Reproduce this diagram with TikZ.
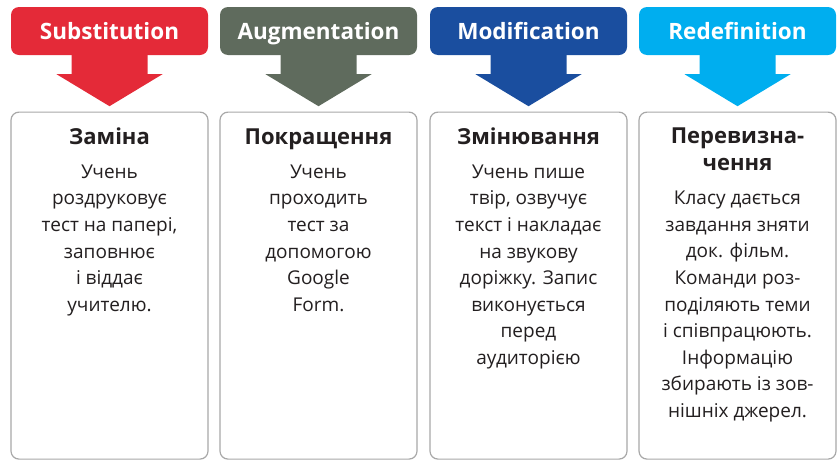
\documentclass[tikz,border=0pt]{standalone}
\usepackage{fontspec}
\setmainfont{Open Sans}
\definecolor{cRed}{HTML}{E42A38}
\definecolor{cGreen}{HTML}{5F6B5D}
\definecolor{cBlue}{HTML}{1A4E9F}
\definecolor{cCyan}{HTML}{00AEEF}
\definecolor{bordergray}{HTML}{A8A8A8}
\definecolor{txt}{HTML}{231F20}
\newcommand{\hdrarrow}[2]{%
  \fill[#2] ([xshift=-38pt,yshift=1pt]#1.south) -- ([xshift=-38pt,yshift=-19pt]#1.south)
    -- ([xshift=-53pt,yshift=-19pt]#1.south) -- ([yshift=-51pt]#1.south)
    -- ([xshift=53pt,yshift=-19pt]#1.south) -- ([xshift=38pt,yshift=-19pt]#1.south)
    -- ([xshift=38pt,yshift=1pt]#1.south) -- cycle;}
\begin{document}
\begin{tikzpicture}[x=1pt,y=-1pt,
  hdr/.style={rounded corners=8pt, minimum width=197pt, minimum height=48pt, inner sep=0pt,
    text=white, text height=16pt, text depth=0pt, font=\bfseries\fontsize{22.5}{24}\selectfont},
  card/.style={draw=bordergray, line width=1.2pt, rounded corners=8pt, fill=white,
    minimum width=197pt, minimum height=347pt, inner sep=0pt, anchor=north},
  ttl/.style={anchor=base, inner sep=0pt, text=txt, align=center,
    font=\bfseries\fontsize{22}{27}\selectfont},
  body/.style={anchor=north, inner sep=0pt, text=txt, align=center,
    font=\fontsize{19}{26.6}\selectfont}]
\useasboundingbox (0,0) rectangle (837,461);
% headers
\node[hdr, fill=cRed]   (h1) at (109.5,31) {Substitution};
\node[hdr, fill=cGreen] (h2) at (318.5,31) {Augmentation};
\node[hdr, fill=cBlue]  (h3) at (528.5,31) {Modification};
\node[hdr, fill=cCyan]  (h4) at (737.5,31) {Redefinition};
\hdrarrow{h1}{cRed}
\hdrarrow{h2}{cGreen}
\hdrarrow{h3}{cBlue}
\hdrarrow{h4}{cCyan}
% cards
\node[card] (c1) at (109.5,111.5) {};
\node[card] (c2) at (318.5,111.5) {};
\node[card] (c3) at (528.5,111.5) {};
\node[card] (c4) at (737.5,111.5) {};
% titles
\node[ttl] (t1) at (109.5,144) {Заміна};
\node[ttl] (t2) at (318.5,144) {Покращення};
\node[ttl] (t3) at (528.5,144) {Змінювання};
\node[ttl] (t4) at (737.5,170) {Перевизна-\\чення};
% bodies
\node[body] (b1) at (109.5,164.5) {Учень\\роздруковує\\тест на папері,\\заповнює\\і віддає\\учителю.};
\node[body] (b2) at (318.5,164.5) {Учень\\проходить\\тест за\\допомогою\\Google\\Form.};
\node[body] (b3) at (528.5,164.5) {Учень пише\\твір, озвучує\\текст і накладає\\на звукову\\доріжку. Запис\\виконується\\перед\\аудиторією};
\node[body] (b4) at (737.5,191) {Класу дається\\завдання зняти\\док. фільм.\\Команди роз-\\поділяють теми\\і співпрацюють.\\Інформацію\\збирають із зов-\\нішніх джерел.};
\end{tikzpicture}
\end{document}
